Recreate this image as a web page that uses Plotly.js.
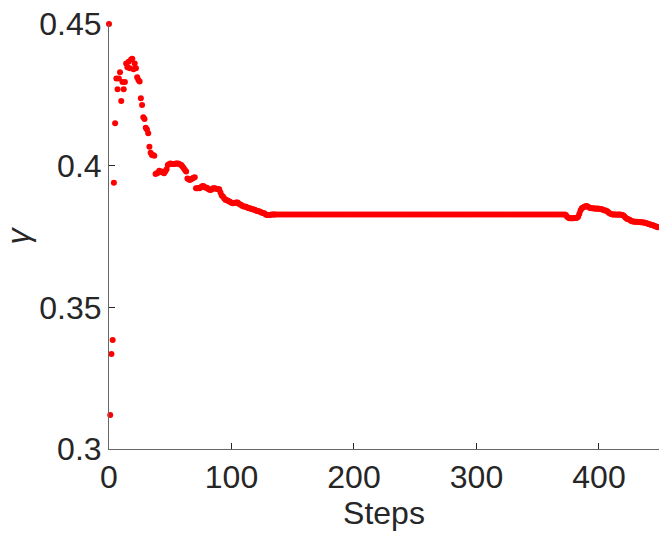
<!DOCTYPE html>
<html>
<head>
<meta charset="utf-8">
<script src="https://cdn.plot.ly/plotly-3.0.1.min.js"></script>
<style>html,body{margin:0;padding:0;background:#fff;}#chart{width:659px;height:533px;}</style>
</head>
<body>
<div id="chart"></div>
<script>
// Early transient (every step)
const stepsEarly = [0,1,2,3,4,5,6,7,8,9,10,11,12,13,14,15,16,17,18,19,20,21,22,23,24,25,26,27,28,29,
30,31,32,33,34,35,36,37,38,39,40,41,42,43,44,45,46,47,48,49,50,51,52,53,54,55,56,57,58,59,
60,61,62,63,64,65,66,67,68,69,70,71,72,73,74,75,76,77,78,79,80,81,82,83,84,85,86,87,88,89,
90,91,92,93,94,95,96,97,98,99,100,101,102,103,104,105,106,107,108,109,110,111,112,113,114,115,116,117,118,119,
120,121,122,123,124,125,126,127,128,129,130,131,132,133,134,135];
const gammaEarly = [0.450,0.312,0.3335,0.3385,0.394,0.415,0.4308,0.427,0.4308,0.433,
0.4228,0.4295,0.427,0.4295,0.4361,0.4347,0.4367,0.4344,0.4375,0.4377,
0.4340,0.4361,0.4344,0.4312,0.4302,0.4297,0.4238,0.4214,0.4171,0.4165,
0.4134,0.4128,0.4114,0.4067,0.4046,0.4038,0.4038,0.4035,0.3971,0.3973,
0.3975,0.3982,0.3978,0.3979,0.3976,0.3973,0.3980,0.3987,0.4002,0.4005,
0.4008,0.4007,0.4006,0.4006,0.4007,0.4008,0.4008,0.4007,0.4004,0.4002,
0.3997,0.3991,0.3985,0.3979,0.3955,0.3952,0.3949,0.3952,0.3955,0.3957,
0.3959,0.3920,0.3920,0.3921,0.3920,0.3924,0.3927,0.3928,0.3925,0.3922,
0.3922,0.3918,0.3915,0.3914,0.3917,0.3920,0.3920,0.3919,0.3918,0.3918,
0.3917,0.3905,0.3895,0.3891,0.3885,0.3880,0.3879,0.3876,0.3874,0.3872,
0.3869,0.3867,0.3868,0.3869,0.3870,0.3870,0.3866,0.3863,0.3861,0.3858,
0.3856,0.3856,0.3854,0.3852,0.3850,0.3850,0.3848,0.3846,0.3845,0.3844,
0.3842,0.3840,0.3839,0.3838,0.3836,0.3834,0.3833,0.3831,0.3828,0.3826,
0.3826,0.3826,0.3827,0.3828,0.3828,0.3828];

// Plateau
const stepsPlateau = [136,138,140,142,144,146,148,150,152,154,156,158,160,162,164,166,168,170,172,174,
176,178,180,182,184,186,188,190,192,194,196,198,200,202,204,206,208,210,212,214,
216,218,220,222,224,226,228,230,232,234,236,238,240,242,244,246,248,250,252,254,
256,258,260,262,264,266,268,270,272,274,276,278,280,282,284,286,288,290,292,294,
296,298,300,302,304,306,308,310,312,314,316,318,320,322,324,326,328,330,332,334,
336,338,340,342,344,346,348,350,352,354,356,358,360,362,364,366,368,370,372];
const gammaPlateau = [0.3828,0.3828,0.3828,0.3828,0.3828,0.3828,0.3828,0.3828,0.3828,0.3828,
0.3828,0.3828,0.3828,0.3828,0.3828,0.3828,0.3828,0.3828,0.3828,0.3828,
0.3828,0.3828,0.3828,0.3828,0.3828,0.3828,0.3828,0.3828,0.3828,0.3828,
0.3828,0.3828,0.3828,0.3828,0.3828,0.3828,0.3828,0.3828,0.3828,0.3828,
0.3828,0.3828,0.3828,0.3828,0.3828,0.3828,0.3828,0.3828,0.3828,0.3828,
0.3828,0.3828,0.3828,0.3828,0.3828,0.3828,0.3828,0.3828,0.3828,0.3828,
0.3828,0.3828,0.3828,0.3828,0.3828,0.3828,0.3828,0.3828,0.3828,0.3828,
0.3828,0.3828,0.3828,0.3828,0.3828,0.3828,0.3828,0.3828,0.3828,0.3828,
0.3828,0.3828,0.3828,0.3828,0.3828,0.3828,0.3828,0.3828,0.3828,0.3828,
0.3828,0.3828,0.3828,0.3828,0.3828,0.3828,0.3828,0.3828,0.3828,0.3828,
0.3828,0.3828,0.3828,0.3828,0.3828,0.3828,0.3828,0.3828,0.3828,0.3828,
0.3828,0.3828,0.3828,0.3828,0.3828,0.3828,0.3828,0.3828,0.3828];

// Late segment (every step)
const stepsLate = [373,374,375,376,377,378,379,380,381,382,383,384,385,386,387,388,389,390,391,392,
393,394,395,396,397,398,399,400,401,402,403,404,405,406,407,408,409,410,411,412,
413,414,415,416,417,418,419,420,421,422,423,424,425,426,427,428,429,430,431,432,
433,434,435,436,437,438,439,440,441,442,443,444,445,446,447,448];
const gammaLate = [0.3826,0.3820,0.3816,0.3814,0.3814,0.3814,0.3814,0.3815,0.3815,0.3816,
0.3820,0.3830,0.3843,0.3850,0.3852,0.3855,0.3857,0.3858,0.3855,0.3852,
0.3851,0.3850,0.3850,0.3849,0.3849,0.3848,0.3849,0.3848,0.3847,0.3846,
0.3845,0.3843,0.3842,0.3841,0.3838,0.3834,0.3831,0.3829,0.3828,0.3828,
0.3828,0.3828,0.3827,0.3828,0.3828,0.3827,0.3826,0.3824,0.3820,0.3815,
0.3812,0.3811,0.3809,0.3806,0.3804,0.3803,0.3802,0.3802,0.3802,0.3801,
0.3801,0.3800,0.3800,0.3799,0.3799,0.3798,0.3797,0.3795,0.3793,0.3792,
0.3791,0.3790,0.3788,0.3786,0.3784,0.3783];

const xTicks = [0,100,200,300,400];
const yTicks = [0.3,0.35,0.4,0.45];
const yTickText = ['0.3','0.35','0.4','0.45'];

const steps = stepsEarly.concat(stepsPlateau, stepsLate);
const gamma = gammaEarly.concat(gammaPlateau, gammaLate);

const fontFam = '"Liberation Sans", Arial, sans-serif';
const axisColor = '#262626';

Plotly.newPlot('chart', [{
  x: steps, y: gamma, type: 'scatter', mode: 'markers',
  marker: {color: '#ff0000', size: 6, line: {width: 0}},
  cliponaxis: false, hoverinfo: 'skip'
}], {
  width: 659, height: 533,
  margin: {l: 109, r: 0, t: 24, b: 84, pad: 0},
  paper_bgcolor: '#ffffff', plot_bgcolor: '#ffffff',
  showlegend: false,
  font: {family: fontFam, color: axisColor},
  xaxis: {
    range: [0, 449], tickvals: xTicks, ticks: 'inside', ticklen: 6, tickcolor: axisColor,
    showline: true, linecolor: '#666666', linewidth: 1, showgrid: false, zeroline: false,
    tickfont: {size: 32, family: fontFam, color: axisColor},
    title: {text: 'Steps', font: {size: 32, family: fontFam, color: axisColor}, standoff: 4},
    automargin: false
  },
  yaxis: {
    range: [0.3, 0.450001], tickvals: yTicks, ticktext: yTickText, ticks: 'inside', ticklen: 6, tickcolor: axisColor,
    showline: true, linecolor: '#666666', linewidth: 1, showgrid: false, zeroline: false,
    tickfont: {size: 32, family: fontFam, color: axisColor},
    title: {text: '<i>γ</i>', font: {size: 32, family: fontFam, color: axisColor}, standoff: 14},
    automargin: false
  }
}, {displayModeBar: false, staticPlot: true});
</script>
</body>
</html>
